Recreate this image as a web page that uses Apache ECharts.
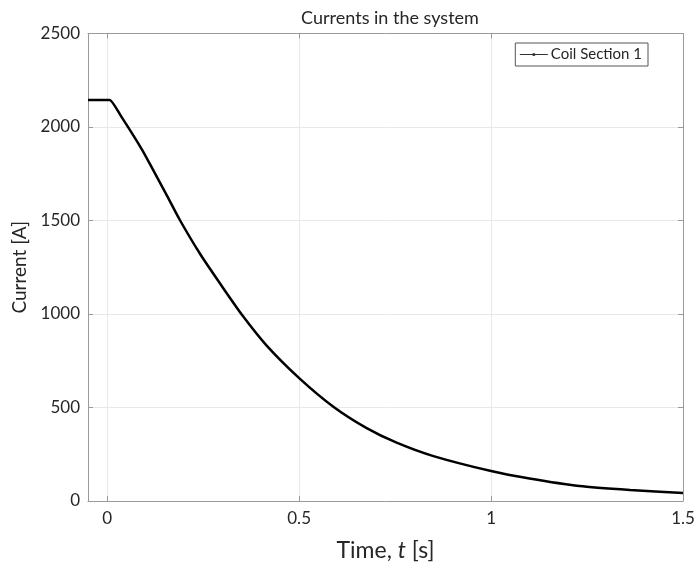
<!DOCTYPE html>
<html>
<head>
<meta charset="utf-8">
<script src="https://cdn.jsdelivr.net/npm/echarts@6/dist/echarts.min.js"></script>
<style>
  html, body { margin: 0; padding: 0; background: #fff; }
  #main { width: 697px; height: 564px; }
</style>
</head>
<body>
<div id="main"></div>
<script>
// values
var timeS = [-0.05, 0.0, 0.0065, 0.036, 0.091, 0.121, 0.156, 0.19, 0.243, 0.295, 0.351, 0.416, 0.503, 0.59, 0.676, 0.754, 0.85, 1.0, 1.1, 1.23, 1.362, 1.5];
var coil1 = [2145, 2145, 2145, 2058, 1878, 1765, 1632, 1500, 1318, 1160, 996, 830, 652, 503, 390, 312, 240, 160, 120, 80, 59, 43];
var xTicks = [0, 0.5, 1, 1.5];
var seriesName = 'Coil Section 1';

var points = timeS.map(function (t, i) { return [t, coil1[i]]; });

var txt = '#262626';
var axisGray = '#9a9a9a';
var gridGray = '#e8e8e8';

var chart = echarts.init(document.getElementById('main'));
chart.setOption({
  backgroundColor: '#fff',
  animation: false,
  title: {
    text: 'Currents in the system',
    left: 385, top: 4,
    textAlign: 'center',
    textStyle: { fontFamily: 'Lato', fontSize: 18, fontWeight: 'normal', color: txt }
  },
  legend: {
    data: [seriesName],
    right: 49, top: 43,
    orient: 'vertical',
    borderColor: '#555', borderWidth: 1,
    padding: [4, 6, 4, 4],
    itemWidth: 28, itemHeight: 4,
    lineStyle: { width: 1, color: '#333' },
    itemStyle: { color: '#333' },
    textStyle: { fontFamily: 'Lato', fontSize: 15, color: txt, padding: [0, 0, 0, -2] }
  },
  grid: { left: 88, right: 14, top: 33.5, bottom: 63, containLabel: false, outerBoundsMode: 'none' },
  xAxis: [{
    type: 'value', min: -0.05, max: 1.5,
    name: 'Time, {i|t} [s]',
    nameLocation: 'middle', nameGap: 38,
    nameTextStyle: {
      fontFamily: 'Lato', fontSize: 23, color: txt,
      rich: { i: { fontFamily: 'Lato', fontSize: 23, fontStyle: 'italic', color: txt } }
    },
    axisLine: { show: true, onZero: false, lineStyle: { color: axisGray } },
    axisTick: { show: true, inside: true, length: 5, customValues: xTicks, lineStyle: { color: axisGray } },
    axisLabel: { customValues: xTicks, fontFamily: 'Lato', fontSize: 17, color: txt, margin: 9,
      formatter: function (v) { return String(v); } },
    splitLine: { show: true, lineStyle: { color: gridGray } }
  }, {
    type: 'value', min: -0.05, max: 1.5, position: 'top',
    axisLine: { show: true, onZero: false, lineStyle: { color: axisGray } },
    axisTick: { show: true, inside: true, length: 5, customValues: xTicks, lineStyle: { color: axisGray } },
    axisLabel: { show: false },
    splitLine: { show: false }
  }],
  yAxis: [{
    type: 'value', min: 0, max: 2500, interval: 500,
    name: 'Current [A]',
    nameLocation: 'middle', nameGap: 52,
    nameTextStyle: { fontFamily: 'Lato', fontSize: 19, color: txt },
    axisLine: { show: true, onZero: false, lineStyle: { color: axisGray } },
    axisTick: { show: true, inside: true, length: 5, lineStyle: { color: axisGray } },
    axisLabel: { fontFamily: 'Lato', fontSize: 17, color: txt, margin: 8,
      formatter: function (v) { return String(v); } },
    splitLine: { show: true, lineStyle: { color: gridGray } }
  }, {
    type: 'value', min: 0, max: 2500, interval: 500, position: 'right',
    axisLine: { show: true, onZero: false, lineStyle: { color: axisGray } },
    axisTick: { show: true, inside: true, length: 5, lineStyle: { color: axisGray } },
    axisLabel: { show: false },
    splitLine: { show: false }
  }],
  series: [{
    name: seriesName,
    type: 'line',
    data: points,
    showSymbol: false,
    symbol: 'circle',
    symbolSize: 3,
    smooth: 0.2,
    lineStyle: { color: '#000', width: 2.5 },
    itemStyle: { color: '#000' }
  }]
});
</script>
</body>
</html>
